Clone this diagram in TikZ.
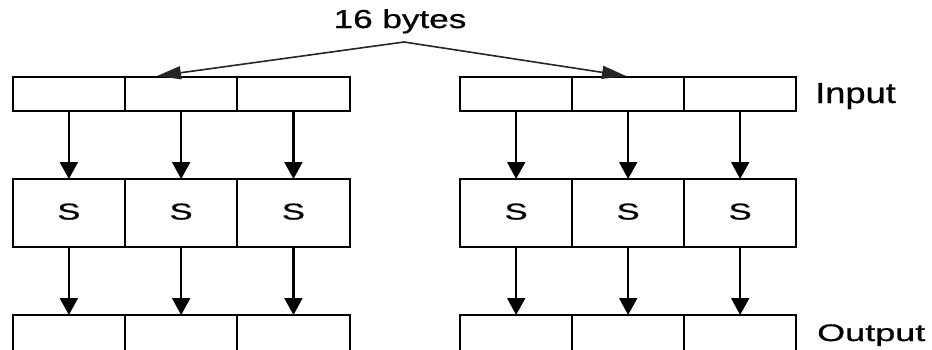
\documentclass[tikz,border=0pt]{standalone}
\usepackage{fontspec}
\setmainfont{Liberation Sans}[FakeBold=0.7]
\usetikzlibrary{arrows.meta}
\tikzset{
  cell/.style={draw=black, line width=2.2pt, minimum width=112.3pt, inner sep=0pt, outer sep=0pt, anchor=north west},
  thin row/.style={cell, minimum height=34pt},
  sbox/.style={cell, minimum height=68pt},
  flow/.style={line width=2.2pt, -{Triangle[length=17pt,width=18pt]}},
  fan/.style={line width=1.6pt, draw=black!85, -{Triangle[length=24pt,width=13pt]}},
  lbl/.style={inner sep=0pt, anchor=base west}
}
\newcommand{\sglyph}{\scalebox{1.5}[1]{\fontsize{23}{23}\selectfont S}}
\begin{document}
\begin{tikzpicture}[x=1pt, y=-1pt]
\useasboundingbox (0,0) rectangle (932,349);
\clip (0,0) rectangle (932,349);
% input row
\node[thin row] (i1) at (12.7,77) {};
\node[thin row] (i2) at (125,77) {};
\node[thin row] (i3) at (237.3,77) {};
\node[thin row] (i4) at (460,77) {};
\node[thin row] (i5) at (572,77) {};
\node[thin row] (i6) at (684,77) {};
% S row
\node[sbox] (s1) at (12.7,179) {\raisebox{3pt}{\sglyph}};
\node[sbox] (s2) at (125,179) {\raisebox{3pt}{\sglyph}};
\node[sbox] (s3) at (237.3,179) {\raisebox{3pt}{\sglyph}};
\node[sbox] (s4) at (460,179) {\raisebox{3pt}{\sglyph}};
\node[sbox] (s5) at (572,179) {\raisebox{3pt}{\sglyph}};
\node[sbox] (s6) at (684,179) {\raisebox{3pt}{\sglyph}};
% output row
\node[thin row, minimum height=40pt] (o1) at (12.7,315) {};
\node[thin row, minimum height=40pt] (o2) at (125,315) {};
\node[thin row, minimum height=40pt] (o3) at (237.3,315) {};
\node[thin row, minimum height=40pt] (o4) at (460,315) {};
\node[thin row, minimum height=40pt] (o5) at (572,315) {};
\node[thin row, minimum height=40pt] (o6) at (684,315) {};
% arrows
\foreach \k in {1,...,6}{
  \draw[flow] (i\k.south) -- (s\k.north);
  \draw[flow] (s\k.south) -- (o\k.north);
}
% labels
\node[inner sep=0pt, anchor=base] (bytes) at (400,28) {\scalebox{1.35}[1]{\fontsize{26}{26}\selectfont 16 bytes}};
\node[lbl] (inlbl) at (815,103) {\scalebox{1.25}[1]{\fontsize{29}{29}\selectfont Input}};
\node[lbl] (outlbl) at (817,341) {\scalebox{1.5}[1]{\fontsize{24}{24}\selectfont Output}};
% fan arrows
\coordinate (apex) at (404,42);
\coordinate (tipL) at (157,76);
\coordinate (tipR) at (626,76);
\draw[fan] (apex) -- (tipL);
\draw[fan] (apex) -- (tipR);
\end{tikzpicture}
\end{document}
